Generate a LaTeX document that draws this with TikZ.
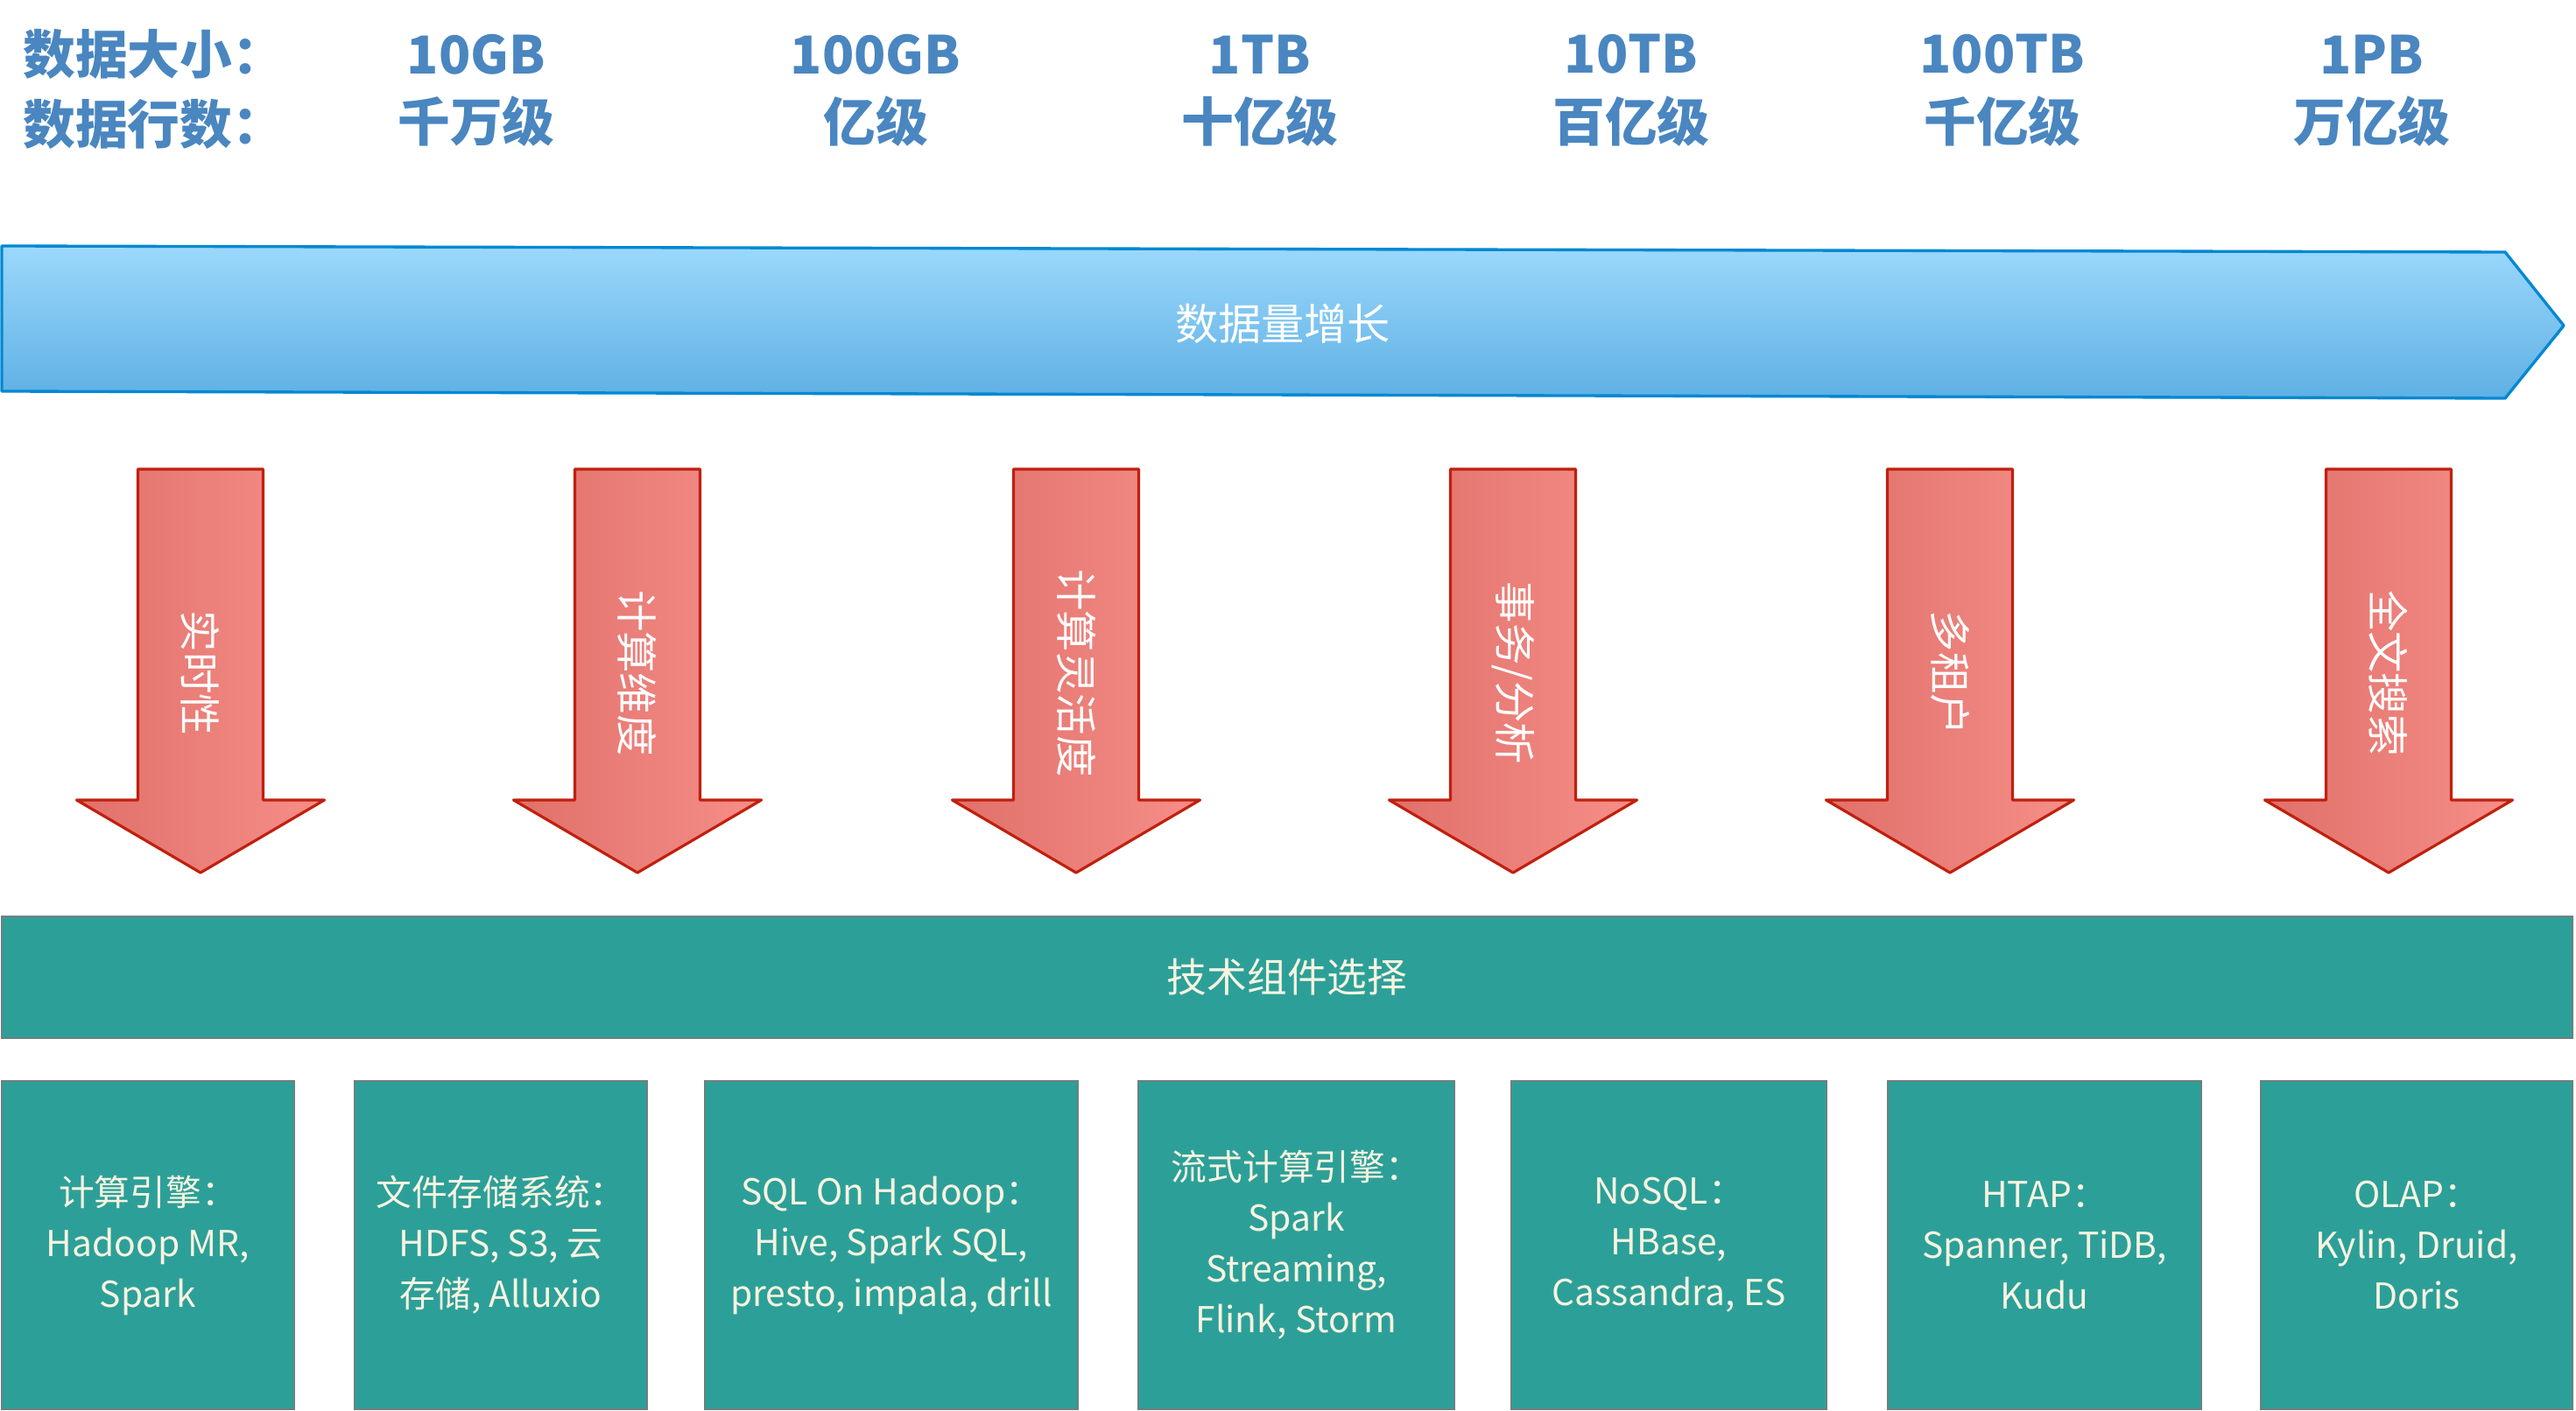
\documentclass[tikz,border=0pt]{standalone}
\usepackage{fontspec}
\setmainfont{Noto Sans CJK SC}
\usepackage{tikz}

\definecolor{hdrblue}{RGB}{74,134,192}
\definecolor{growtop}{RGB}{156,216,252}
\definecolor{growbot}{RGB}{94,176,228}
\definecolor{growline}{RGB}{2,136,210}
\definecolor{needleft}{RGB}{224,112,106}
\definecolor{needright}{RGB}{246,142,136}
\definecolor{needline}{RGB}{192,32,14}
\definecolor{techfill}{RGB}{44,160,152}
\definecolor{techline}{RGB}{110,127,128}
\definecolor{techtext}{RGB}{248,243,225}

\tikzset{
    hdr/.style={text=hdrblue, font=\fontsize{17}{20}\selectfont\bfseries},
    need/.style={shading=axis, left color=needleft, right color=needright, draw=needline, line width=0.9pt, line join=round},
    needlabel/.style={text=white, rotate=-90, font=\fontsize{13.5}{16}\selectfont},
    techbox/.style={fill=techfill, draw=techline, line width=0.6pt, text=techtext, align=center,
        minimum height=3.75cm, inner sep=0pt, font=\fontsize{11.6}{16.5}\selectfont}
}

\begin{document}
\begin{tikzpicture}
    \useasboundingbox (0,0) rectangle (29.42,-16.12);

    % Header rows
    \node[hdr, anchor=west] (sizehdr) at (0.14,-0.62) {数据大小：};
    \node[hdr, anchor=west] (rowshdr) at (0.14,-1.42) {数据行数：};
    \foreach \x/\size/\rows [count=\i] in {5.44/10GB/千万级, 10.00/100GB/亿级, 14.39/1TB/十亿级,
        18.63/10TB/百亿级, 22.87/100TB/千亿级, 27.09/1PB/万亿级} {
        \node[hdr] (size\i) at (\x,-0.62) {\size};
        \node[hdr] (rows\i) at (\x,-1.39) {\rows};
    }

    % Growth arrow
    \shadedraw[top color=growtop, bottom color=growbot, draw=growline, line width=0.95pt, line join=round]
        (0.02,-2.81) -- (28.61,-2.88) -- (29.28,-3.72) -- (28.61,-4.55) -- (0.02,-4.47) -- cycle;
    \node[text=white, font=\fontsize{14}{16}\selectfont] (grow) at (14.65,-3.70) {数据量增长};

    % Requirement arrows
    \foreach \cx/\need [count=\i] in {2.29/实时性, 7.28/计算维度, 12.29/计算灵活度,
        17.28/{事务/分析}, 22.27/多租户, 27.28/全文搜索} {
        \path[need] (\cx-0.715,-5.36) -- (\cx+0.715,-5.36) -- (\cx+0.715,-9.14) -- (\cx+1.415,-9.14)
            -- (\cx,-9.97) -- (\cx-1.415,-9.14) -- (\cx-0.715,-9.14) -- cycle;
        \node[needlabel] (need\i) at (\cx,-7.69) {\need};
    }

    % Component choice
    \node[techbox, minimum width=29.36cm, minimum height=1.39cm, font=\fontsize{13}{16}\selectfont]
        (pick) at (14.70,-11.165) {技术组件选择};

    \node[techbox, minimum width=3.34cm] (engine) at (1.69,-14.225) {计算引擎：\\Hadoop MR,\\Spark};
    \node[techbox, minimum width=3.34cm] (files) at (5.72,-14.225) {文件存储系统：\\HDFS, S3, 云\\存储, Alluxio};
    \node[techbox, minimum width=4.26cm] (sql) at (10.18,-14.225) {SQL On Hadoop：\\Hive, Spark SQL,\\presto, impala, drill};
    \node[techbox, minimum width=3.61cm] (stream) at (14.805,-14.225) {流式计算引擎：\\Spark\\Streaming,\\Flink, Storm};
    \node[techbox, minimum width=3.60cm] (nosql) at (19.06,-14.225) {NoSQL：\\HBase,\\Cassandra, ES};
    \node[techbox, minimum width=3.58cm] (htap) at (23.35,-14.225) {HTAP：\\Spanner, TiDB,\\Kudu};
    \node[techbox, minimum width=3.56cm] (olap) at (27.60,-14.225) {OLAP：\\Kylin, Druid,\\Doris};
\end{tikzpicture}
\end{document}
